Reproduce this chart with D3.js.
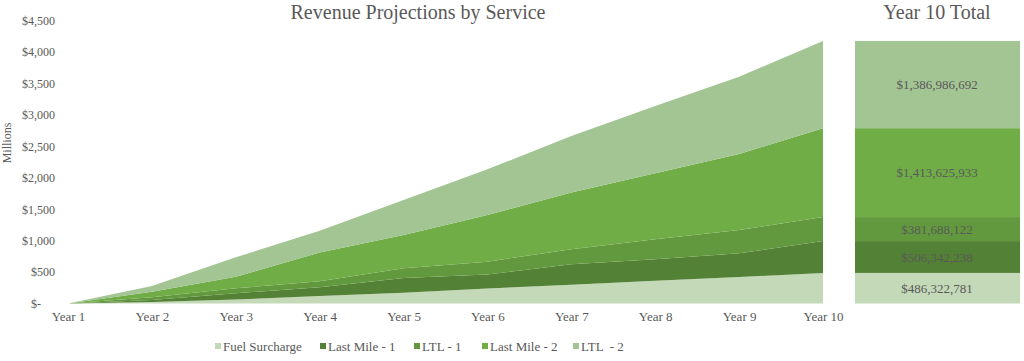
<!doctype html>
<html lang="en">
<head>
<meta charset="UTF-8">
<title>Revenue Projections by Service</title>
<script src="https://cdn.jsdelivr.net/npm/d3@7"></script>
<style>
    body { margin: 0; background: #fff; }
    svg { display: block; }
    text { font-family: "Liberation Serif", "DejaVu Serif", serif; fill: #595959; }
</style>
</head>
<body>
<script>
var years = ["Year 1", "Year 2", "Year 3", "Year 4", "Year 5", "Year 6", "Year 7", "Year 8", "Year 9", "Year 10"];
var seriesNames = ["Fuel Surcharge", "Last Mile - 1", "LTL - 1", "Last Mile - 2", "LTL  - 2"];
var colors = ["#c3d9b8", "#538135", "#62993e", "#70ad47", "#a3c594"];

// values in millions
var fuel = [0, 25, 62, 120, 172, 240, 300, 363, 420, 486.3];
var lastMile1 = [0, 31, 100, 140, 233, 220, 323, 340, 378, 506.3];
var ltl1 = [0, 42, 79, 92, 155, 205, 241, 318, 371, 381.7];
var lastMile2 = [0, 90, 185, 458, 529, 742, 901, 1049, 1208, 1413.6];
var ltl2 = [0, 90, 308, 345, 557, 727, 898, 1070, 1229, 1387.0];

var yTicks = [0, 500, 1000, 1500, 2000, 2500, 3000, 3500, 4000, 4500];
var year10Labels = ["$486,322,781", "$506,342,238", "$381,688,122", "$1,413,625,933", "$1,386,986,692"];

var W = 1024, H = 361;
var svg = d3.select("body").append("svg").attr("width", W).attr("height", H);

var rows = years.map(function (y, i) {
    return {
        year: y,
        "Fuel Surcharge": fuel[i],
        "Last Mile - 1": lastMile1[i],
        "LTL - 1": ltl1[i],
        "Last Mile - 2": lastMile2[i],
        "LTL  - 2": ltl2[i]
    };
});

var stack = d3.stack().keys(seriesNames);
var layers = stack(rows);

var x = d3.scalePoint().domain(years).range([68, 823]);
var y = d3.scaleLinear().domain([0, 4500]).range([303.5, 20.5]);

var area = d3.area()
    .x(function (d) { return x(d.data.year); })
    .y0(function (d) { return y(d[0]); })
    .y1(function (d) { return y(d[1]); });

svg.append("g").selectAll("path")
    .data(layers)
    .enter()
    .append("path")
    .attr("d", area)
    .attr("fill", function (d, i) { return colors[i]; });

// y axis
var yAxis = d3.axisLeft(y).tickValues(yTicks).tickSize(0).tickPadding(0)
    .tickFormat(function (d) { return d === 0 ? "$-" : d3.format("$,")(d); });
var gy = svg.append("g").attr("transform", "translate(55,0)").call(yAxis);
gy.select(".domain").remove();
gy.selectAll("text").attr("font-size", "12px").attr("fill", "#595959")
    .attr("font-family", "Liberation Serif, serif")
    .attr("dx", function (d) { return d === 0 ? -14 : 0; });

svg.append("text")
    .attr("transform", "translate(11,143) rotate(-90)")
    .attr("text-anchor", "middle")
    .attr("font-size", "12px")
    .text("Millions");

// x axis
var xAxis = d3.axisBottom(x).tickSize(0).tickPadding(0);
var gx = svg.append("g").attr("transform", "translate(0,312)").call(xAxis);
gx.select(".domain").remove();
gx.selectAll("text").attr("font-size", "13px").attr("fill", "#595959")
    .attr("font-family", "Liberation Serif, serif");

// title
svg.append("text").attr("x", 418).attr("y", 19).attr("text-anchor", "middle")
    .attr("font-size", "20px").text("Revenue Projections by Service");

// year 10 total panel
svg.append("text").attr("x", 937).attr("y", 19).attr("text-anchor", "middle")
    .attr("font-size", "20px").text("Year 10 Total");

var last = layers.map(function (l) { return l[l.length - 1]; });
var panel = svg.append("g");
panel.selectAll("rect")
    .data(last)
    .enter()
    .append("rect")
    .attr("x", 855)
    .attr("width", 165)
    .attr("y", function (d) { return y(d[1]); })
    .attr("height", function (d) { return y(d[0]) - y(d[1]); })
    .attr("fill", function (d, i) { return colors[i]; });

panel.selectAll("text")
    .data(last)
    .enter()
    .append("text")
    .attr("x", 937)
    .attr("y", function (d) { return (y(d[0]) + y(d[1])) / 2; })
    .attr("dy", "0.35em")
    .attr("text-anchor", "middle")
    .attr("font-size", "13px")
    .attr("fill", "#404040")
    .text(function (d, i) { return year10Labels[i]; });

// legend
var legendX = [215, 320, 414, 482, 573];
var legend = svg.append("g").selectAll("g")
    .data(seriesNames)
    .enter()
    .append("g")
    .attr("transform", function (d, i) { return "translate(" + legendX[i] + ",351)"; });
legend.append("rect").attr("x", 0).attr("y", -8).attr("width", 6).attr("height", 6)
    .attr("fill", function (d, i) { return colors[i]; });
legend.append("text").attr("x", 8).attr("y", 0)
    .attr("font-size", "13px")
    .style("white-space", "pre")
    .text(function (d) { return d; });
</script>
</body>
</html>
